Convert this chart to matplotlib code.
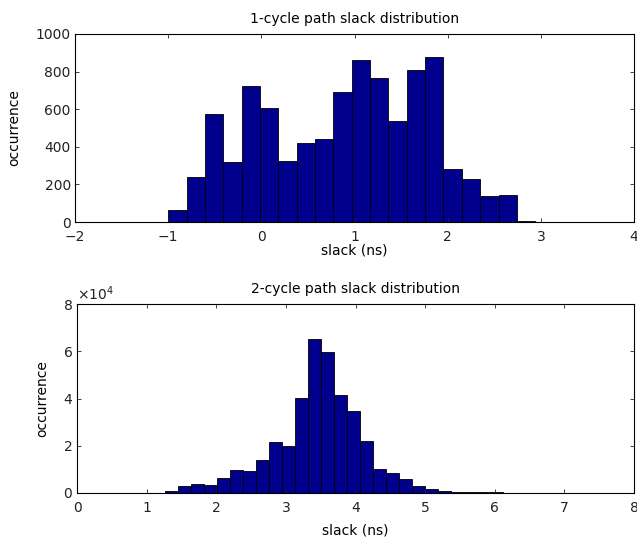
import matplotlib
matplotlib.use("Agg")
import matplotlib.pyplot as plt
import numpy as np

# 1-cycle path slack histogram (20 bins between -1.0 and 2.94 ns)
one_cycle_range = (-1.0, 2.94)
one_cycle_counts = [62, 242, 577, 317, 723, 608, 326, 418, 444, 691,
                    864, 765, 536, 806, 877, 282, 228, 136, 145, 7]

# 2-cycle path slack histogram (27 bins between 1.27 and 6.3 ns)
two_cycle_range = (1.27, 6.3)
two_cycle_counts = [850, 3100, 3900, 3400, 6300, 9900, 9200, 14100, 21400, 20000,
                    40100, 65200, 59600, 41500, 34800, 21800, 10100, 8500, 6100, 2800,
                    1700, 850, 400, 300, 300, 300, 150]

BAR = "#00008c"
FS = 10

plt.rcParams.update({
    "font.family": "DejaVu Sans",
    "font.size": FS,
    "xtick.direction": "in",
    "ytick.direction": "in",
    "xtick.top": True,
    "ytick.right": True,
    "axes.linewidth": 0.8,
})

fig = plt.figure(figsize=(6.37, 5.40), dpi=100)
ax1 = fig.add_axes([75 / 637, 1 - 222 / 540, 559 / 637, 188 / 540])
ax2 = fig.add_axes([77 / 637, 1 - 493 / 540, 557 / 637, 189 / 540])


def draw_hist(ax, rng, counts):
    edges = np.linspace(rng[0], rng[1], len(counts) + 1)
    ax.bar(edges[:-1], counts, width=np.diff(edges), align="edge",
           color=BAR, edgecolor="black", linewidth=0.6)


draw_hist(ax1, one_cycle_range, one_cycle_counts)
ax1.set_xlim(-2, 4)
ax1.set_ylim(0, 1000)
ax1.set_xticks(range(-2, 5))
ax1.set_yticks(range(0, 1001, 200))
ax1.set_title("1-cycle path slack distribution", fontsize=FS, pad=8)
ax1.set_xlabel("slack (ns)", fontsize=FS)
ax1.set_ylabel("occurrence", fontsize=FS)
ax1.yaxis.set_label_coords(-0.097, 0.5)
ax1.xaxis.set_label_coords(0.5, -0.112)

draw_hist(ax2, two_cycle_range, two_cycle_counts)
ax2.set_xlim(0, 8)
ax2.set_ylim(0, 80000)
ax2.set_xticks(range(0, 9))
ax2.set_yticks(range(0, 80001, 20000))
ax2.ticklabel_format(axis="y", style="sci", scilimits=(0, 0), useMathText=True)
ax2.yaxis.get_offset_text().set_fontsize(FS)
ax2.set_title("2-cycle path slack distribution", fontsize=FS, pad=8)
ax2.set_xlabel("slack (ns)", fontsize=FS)
ax2.set_ylabel("occurrence", fontsize=FS)
ax2.yaxis.set_label_coords(-0.05, 0.5)
ax2.xaxis.set_label_coords(0.5, -0.164)

for ax in (ax1, ax2):
    ax.tick_params(length=3, width=0.6, colors="#222222", labelsize=FS)
    ax.tick_params(axis="x", pad=6)
    ax.tick_params(axis="y", pad=3)

fig.savefig("out.png", dpi=100, facecolor="white")
